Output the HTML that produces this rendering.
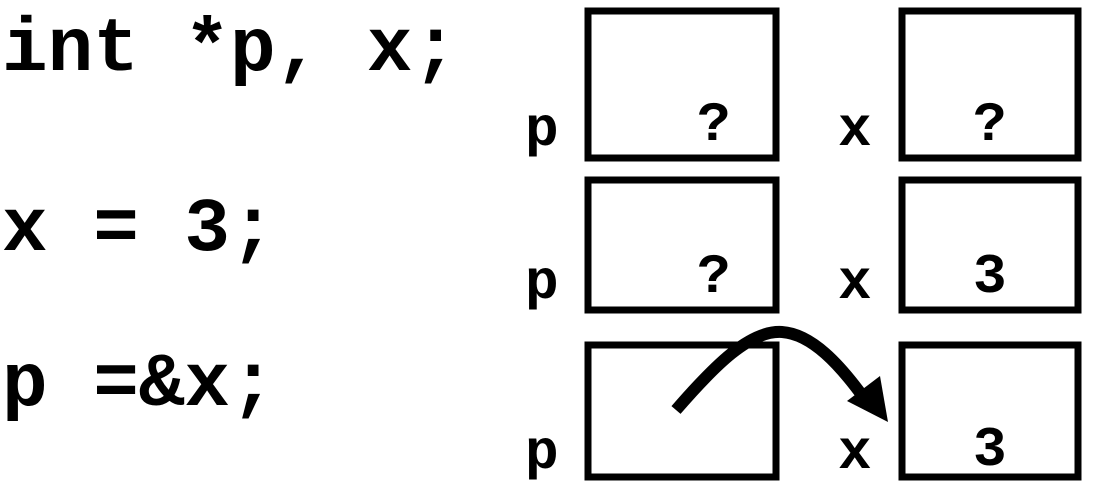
<!DOCTYPE html>
<html><head><meta charset="utf-8"><style>
html,body{margin:0;padding:0;background:#fff;width:1095px;height:486px;overflow:hidden}
svg text{font-family:"Liberation Mono","DejaVu Sans Mono",monospace;font-weight:bold;fill:#000}
</style></head><body>
<svg width="1095" height="486" viewBox="0 0 1095 486">
<g>
<text x="2" y="70" font-size="76">int *p, x;</text>
<text x="2" y="250" font-size="76">x = 3;</text>
<text x="2" y="405" font-size="76">p =&amp;x;</text>
</g>
<g fill="none" stroke="#000" stroke-width="7">
<rect x="588" y="11" width="188" height="147"/>
<rect x="902" y="11" width="176" height="147"/>
<rect x="588" y="180" width="188" height="130"/>
<rect x="902" y="180" width="176" height="130"/>
<rect x="588" y="345" width="188" height="132"/>
<rect x="902" y="345" width="176" height="132"/>
</g>
<g font-size="56">
<text x="525" y="145">p</text>
<text x="838" y="145">x</text>
<text x="697" y="140">?</text>
<text x="973" y="140">?</text>
<text x="525" y="298">p</text>
<text x="838" y="298">x</text>
<text x="697" y="292">?</text>
<text x="973" y="292">3</text>
<text x="525" y="468">p</text>
<text x="838" y="468">x</text>
<text x="973" y="465">3</text>
</g>
<g>
<path d="M676,410 C715,365 750,330 782,332 C812,334 840,365 864,398" fill="none" stroke="#000" stroke-width="12"/>
<polygon points="847,401 880,376 888,422" fill="#000"/>
</g>
</svg>
</body></html>
